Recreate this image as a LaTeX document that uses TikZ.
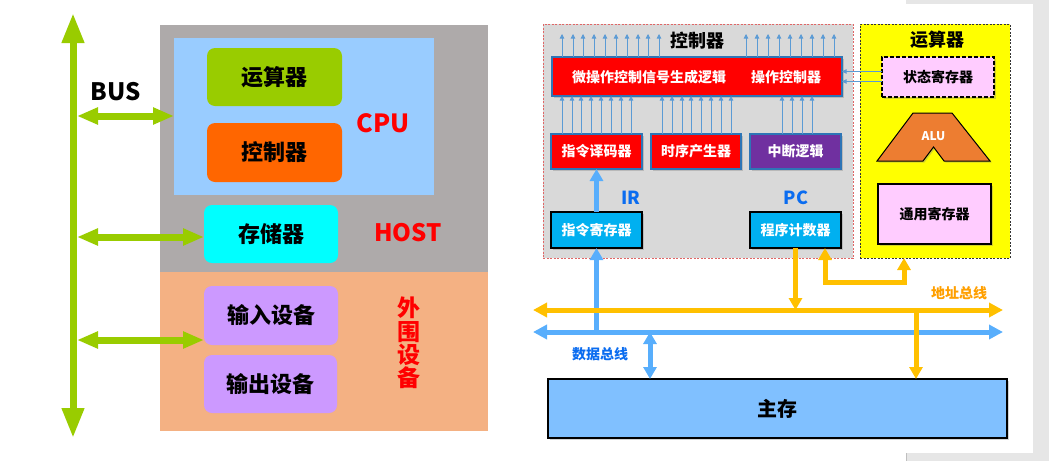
\documentclass[tikz,border=0pt]{standalone}
\usepackage{fontspec}
\newfontfamily\cjk{Noto Sans CJK SC}
\usetikzlibrary{arrows.meta,shadows}
\definecolor{busgreen}{HTML}{99CC00}
\definecolor{hostgray}{HTML}{AEAAAA}
\definecolor{periph}{HTML}{F4B183}
\definecolor{cpublue}{HTML}{99CCFF}
\definecolor{ctrlorange}{HTML}{FF6600}
\definecolor{memcyan}{HTML}{00FFFF}
\definecolor{lavender}{HTML}{CC99FF}
\definecolor{txtred}{HTML}{FF0000}
\definecolor{cbg}{HTML}{D9D9D9}
\definecolor{cdash}{HTML}{E06666}
\definecolor{sigblue}{HTML}{5B9BD5}
\definecolor{boxblue}{HTML}{2E75B6}
\definecolor{intpurple}{HTML}{7030A0}
\definecolor{regblue}{HTML}{00B0F0}
\definecolor{lineblue}{HTML}{58AEFC}
\definecolor{busyellow}{HTML}{FFC000}
\definecolor{pinkbox}{HTML}{FFCCFF}
\definecolor{aluorange}{HTML}{ED7D31}
\definecolor{mainmem}{HTML}{80C0FF}
\definecolor{labblue}{HTML}{0A6CF0}
\definecolor{laborange}{HTML}{FF9F00}
\definecolor{fringe}{HTML}{E6E6E6}
\definecolor{yellowbg}{HTML}{FFFF00}
\tikzset{
  mytri/.tip={Triangle[width=13pt,length=12pt]},
  mybigtri/.tip={Triangle[width=14pt,length=14pt]},
  mygtri/.tip={Triangle[width=21pt,length=30pt]},
  mygstri/.tip={Triangle[width=16pt,length=21pt]},
  mysig/.tip={Triangle[width=4.5pt,length=4.5pt]}
}
\begin{document}
\begin{tikzpicture}[x=1pt,y=-1pt,
  every node/.style={inner sep=0pt, outer sep=0pt},
  fs/.style={font=\cjk\bfseries\fontsize{#1}{#1}\selectfont},
  lbox/.style={rounded corners=8pt, fs=22, text=black},
  gbus/.style={draw=busgreen, line width=7pt, mygtri-mygtri},
  gbuss/.style={draw=busgreen, line width=7pt, mygstri-mygstri},
  shd/.style={drop shadow={opacity=0.35, shadow xshift=1.5pt, shadow yshift=-1.5pt}},
  redbox/.style={fill=red, draw=boxblue, line width=2pt, shd, fs=14, text=white},
  regbox/.style={fill=regblue, draw=black, line width=2.5pt, shd, fs=14, text=white, minimum width=91pt, minimum height=36pt},
  sig/.style={draw=sigblue, line width=0.8pt, -mysig},
  bline/.style={draw=lineblue, line width=5pt},
  yline/.style={draw=busyellow, line width=5pt}
]
\useasboundingbox (0,0) rectangle (1049,461);
% fringe of the right panel
\fill[fringe] (906,0) rectangle (1049,4);
\fill[fringe] (1033,0) rectangle (1049,461);
\fill[fringe] (906,453) rectangle (1049,461);
\draw[black!25, line width=0.6pt] (906.3,453) -- (906.3,461);

% ================= left diagram =================
\node[fill=hostgray, minimum width=328pt, minimum height=247pt] (host) at (324,148.5) {};
\node[fill=periph, minimum width=328pt, minimum height=159pt] (per) at (324,351.5) {};
\node[fill=cpublue, minimum width=260pt, minimum height=157pt] (cpu) at (304,116.5) {};
\node[lbox, fill=busgreen, minimum width=135pt, minimum height=58pt] (ys) at (274.5,77) {运算器};
\node[lbox, fill=ctrlorange, minimum width=135pt, minimum height=59pt] (kz) at (274.5,152.5) {控制器};
\node[lbox, fill=memcyan, minimum width=134pt, minimum height=58pt] (cc) at (271,234) {存储器};
\node[lbox, fill=lavender, minimum width=134pt, minimum height=59pt] (inp) at (271,315.5) {输入设备};
\node[lbox, fill=lavender, minimum width=133pt, minimum height=58pt] (outp) at (270.5,384) {输出设备};
\node[fs=25, text=txtred] (cputxt) at (383,123) {CPU};
\node[fs=24, text=txtred] (hosttxt) at (408,233) {HOST};
\node[text=txtred, align=center, font=\cjk\bfseries\fontsize{23}{23.3}\selectfont] (wwtxt) at (409,343) {外\\围\\设\\备};
\node[fs=24, text=black] (bustxt) at (116,92) {BUS};

\coordinate (bt) at (73,13);
\coordinate (bb) at (73,438);
\draw[gbus] (bb) -- (bt);
\coordinate (h1) at (77,116);
\coordinate (h2) at (77,237);
\coordinate (h3) at (77,340);
\draw[gbuss] (h1) -- (h1 -| cpu.west);
\draw[gbuss] (h2) -- (h2 -| cc.west);
\draw[gbuss] (h3) -- (h3 -| inp.west);

% ================= right diagram =================
\node[fill=cbg, draw=cdash, line width=0.8pt, dash pattern=on 2pt off 1.5pt, minimum width=310pt, minimum height=234pt] (cbgbox) at (698,141) {};
\node[fs=18, text=black] (cbgt) at (697,41) {控制器};
\node[fill=yellowbg, draw=black!80, line width=0.7pt, dash pattern=on 2pt off 1.5pt, minimum width=150pt, minimum height=234pt] (alubox) at (935,141) {};
\node[fs=18, text=black] (alut) at (937,40) {运算器};

\node[redbox, minimum width=290pt, minimum height=39pt] (ctl) at (697,76.5) {};
\node[fs=14, text=white] (ctl1) at (649,77) {微操作控制信号生成逻辑};
\node[fs=14, text=white] (ctl2) at (786,77) {操作控制器};

\node[redbox, minimum width=91pt, minimum height=35pt] (dec) at (596.5,151.5) {指令译码器};
\node[redbox, minimum width=90pt, minimum height=35pt] (tim) at (696,151.5) {时序产生器};
\node[redbox, fill=intpurple, minimum width=91pt, minimum height=35pt] (intr) at (795.5,151.5) {中断逻辑};

\node[regbox] (ir) at (596.5,230) {指令寄存器};
\node[regbox] (pc) at (795.5,230) {程序计数器};
\node[fs=18, text=labblue] (irl) at (631,198) {IR};
\node[fs=18, text=labblue] (pcl) at (796,198) {PC};

\foreach \x in {562,573,583,594,605,616,627,638,648,659,746,757,768,779,790,801,812,823,834}
  \draw[sig] (\x,0 |- ctl.north) -- (\x,34);
\foreach \x in {562,572,581,591,601,611,621,631}
  \draw[sig] (\x,0 |- dec.north) -- (\x,0 |- ctl.south);
\foreach \x in {662,672,682,691,701,711,721,731}
  \draw[sig] (\x,0 |- tim.north) -- (\x,0 |- ctl.south);
\foreach \x in {782,792,802,812}
  \draw[sig] (\x,0 |- intr.north) -- (\x,0 |- ctl.south);

\node[fill=pinkbox, draw=black, line width=2pt, dash pattern=on 4pt off 2pt, shd, minimum width=112pt, minimum height=40pt, fs=14] (sr) at (938,77) {状态寄存器};
\draw[sig] (sr.west |- 0,71.5) -- (ctl.east |- 0,71.5);
\draw[sig] (sr.west |- 0,81.5) -- (ctl.east |- 0,81.5);

\draw[fill=aluorange, draw=black, line width=1pt, shd] (913,113) -- (952,113) -- (990,161) -- (944,161) -- (933.5,147) -- (923,161) -- (877,161) -- cycle;
\node[fs=12, text=white] (alulbl) at (933.5,136) {ALU};
\node[fill=pinkbox, draw=black, line width=2.5pt, shd, minimum width=113pt, minimum height=60pt, fs=14] (gr) at (934.5,214) {通用寄存器};

\node[fill=mainmem, draw=black, line width=2.5pt, shd, minimum width=459pt, minimum height=59pt, fs=20] (mm) at (777.5,408.5) {主存};

% buses
\coordinate (abL) at (533,310);
\coordinate (abR) at (1003,310);
\coordinate (dbL) at (533,332);
\coordinate (dbR) at (1003,332);

\draw[bline, -mytri] (ir.north) -- (dec.south);
\draw[bline, -mytri] (ir.south |- dbL) -- (ir.south);
\draw[bline, mytri-mytri] (650,0 |- dbL) -- (650,0 |- mm.north);
\draw[bline, mybigtri-mybigtri] (dbL) -- (dbR);

\draw[yline, -mytri] (pc.south) -- (pc.south |- abL);
\draw[yline, mytri-mytri] (pc.south -| 825,0) -- (825,282) -- (904,282) -- (alubox.south -| 904,0);
\draw[yline, -mytri] (916,0 |- abL) -- (916,0 |- mm.north);
\draw[yline, mybigtri-mybigtri] (abL) -- (abR);

\node[fs=14, text=laborange] (ablbl) at (959,293) {地址总线};
\node[fs=14, text=labblue] (dblbl) at (600,354) {数据总线};
\end{tikzpicture}
\end{document}
